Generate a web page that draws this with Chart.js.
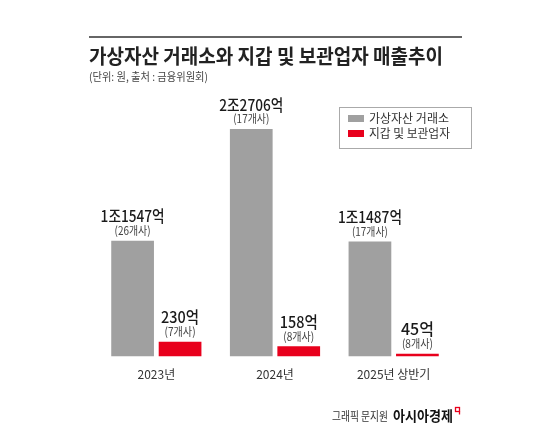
<!DOCTYPE html>
<html>
<head>
<meta charset="utf-8">
<script src="https://cdn.jsdelivr.net/npm/chart.js@4"></script>
<style>
html,body{margin:0;padding:0;background:#fff;}
#wrap{width:550px;height:440px;position:relative;}
</style>
</head>
<body>
<div id="wrap"><canvas id="c" width="550" height="440"></canvas></div>
<script>
const categories = ['2023년', '2024년', '2025년 상반기'];
const exchangeValues = [11547, 22706, 11487];   // 억원
const walletValues = [230, 158, 45];            // 억원
const exchangeCounts = [26, 17, 17];
const walletCounts = [7, 8, 8];
const seriesNames = ['가상자산 거래소', '지갑 및 보관업자'];
const titleText = '가상자산 거래소와 지갑 및 보관업자 매출추이';
const subtitleText = '(단위: 원, 출처 : 금융위원회)';

const FONT = '"Noto Sans CJK KR", "Noto Sans", sans-serif';
const GREY = '#a0a0a0';
const RED = '#e8001c';

function fmtEok(v){
  const jo = Math.floor(v / 10000), rest = v % 10000;
  return jo > 0 ? jo + '조' + rest + '억' : v + '억';
}

const decor = {
  id: 'decor',
  afterDraw(chart){
    const ctx = chart.ctx;
    ctx.save();
    // top rule
    ctx.strokeStyle = '#333';
    ctx.lineWidth = 1.5;
    ctx.beginPath(); ctx.moveTo(89, 37); ctx.lineTo(462, 37); ctx.stroke();
    // title
    ctx.fillStyle = '#222';
    ctx.textBaseline = 'middle';
    ctx.textAlign = 'left';
    ctx.font = 'bold 20px ' + FONT;
    ctx.fillText(titleText, 89, 56.5, 354);
    ctx.font = '11px ' + FONT;
    ctx.fillStyle = '#444';
    ctx.fillText(subtitleText, 89, 76.5, 119);

    // legend
    ctx.strokeStyle = '#aaa';
    ctx.lineWidth = 1;
    ctx.strokeRect(339.5, 107.5, 132, 41);
    const ds = chart.data.datasets;
    const ly = [118.5, 133.5];
    ds.forEach((d, i) => {
      ctx.fillStyle = d.backgroundColor;
      ctx.fillRect(348, ly[i] - 3.5, 16, 7);
      ctx.fillStyle = '#333';
      ctx.font = '12px ' + FONT;
      ctx.fillText(d.label, 369, ly[i], 81);
    });

    // value labels
    ctx.textAlign = 'center';
    const counts = [exchangeCounts, walletCounts];
    ds.forEach((d, di) => {
      const meta = chart.getDatasetMeta(di);
      meta.data.forEach((bar, i) => {
        const txt = fmtEok(d.data[i]);
        ctx.fillStyle = '#1a1a1a';
        ctx.font = '500 16px ' + FONT;
        ctx.fillText(txt, bar.x, bar.y - 24.5, di === 0 ? 64 : 38);
        ctx.fillStyle = '#444';
        ctx.font = '11.5px ' + FONT;
        ctx.fillText('(' + counts[di][i] + '개사)', bar.x, bar.y - 10, di === 0 ? 36 : 31);
      });
    });

    // footer
    ctx.textAlign = 'left';
    ctx.fillStyle = '#333';
    ctx.font = '12px ' + FONT;
    ctx.fillText('그래픽 문지원', 332, 416, 56);
    ctx.fillStyle = '#111';
    ctx.font = 'bold 14px ' + FONT;
    ctx.fillText('아시아경제', 393, 416, 60);
    ctx.strokeStyle = RED;
    ctx.lineWidth = 1.3;
    ctx.strokeRect(455.5, 407.5, 4, 4);
    ctx.beginPath(); ctx.moveTo(459.5, 411.5); ctx.lineTo(459.5, 414.5); ctx.stroke();
    ctx.restore();
  }
};

new Chart(document.getElementById('c'), {
  type: 'bar',
  data: {
    labels: categories,
    datasets: [
      { label: seriesNames[0], data: exchangeValues, backgroundColor: GREY, yAxisID: 'y',
        categoryPercentage: 0.8, barPercentage: 0.9 },
      { label: seriesNames[1], data: walletValues, backgroundColor: RED, yAxisID: 'y2',
        categoryPercentage: 0.8, barPercentage: 0.9 }
    ]
  },
  options: {
    responsive: false,
    animation: false,
    devicePixelRatio: 1,
    layout: { padding: { left: 97, right: 97, top: 106, bottom: 55 } },
    plugins: { legend: { display: false }, tooltip: { enabled: false } },
    scales: {
      x: {
        grid: { display: false },
        border: { display: false },
        ticks: { color: '#333', font: { family: FONT, size: 12 }, padding: 3 }
      },
      y: { display: false, min: 0, max: 25000 },
      y2: { display: false, min: 0, max: 3850 }
    }
  },
  plugins: [decor]
});
</script>
</body>
</html>
